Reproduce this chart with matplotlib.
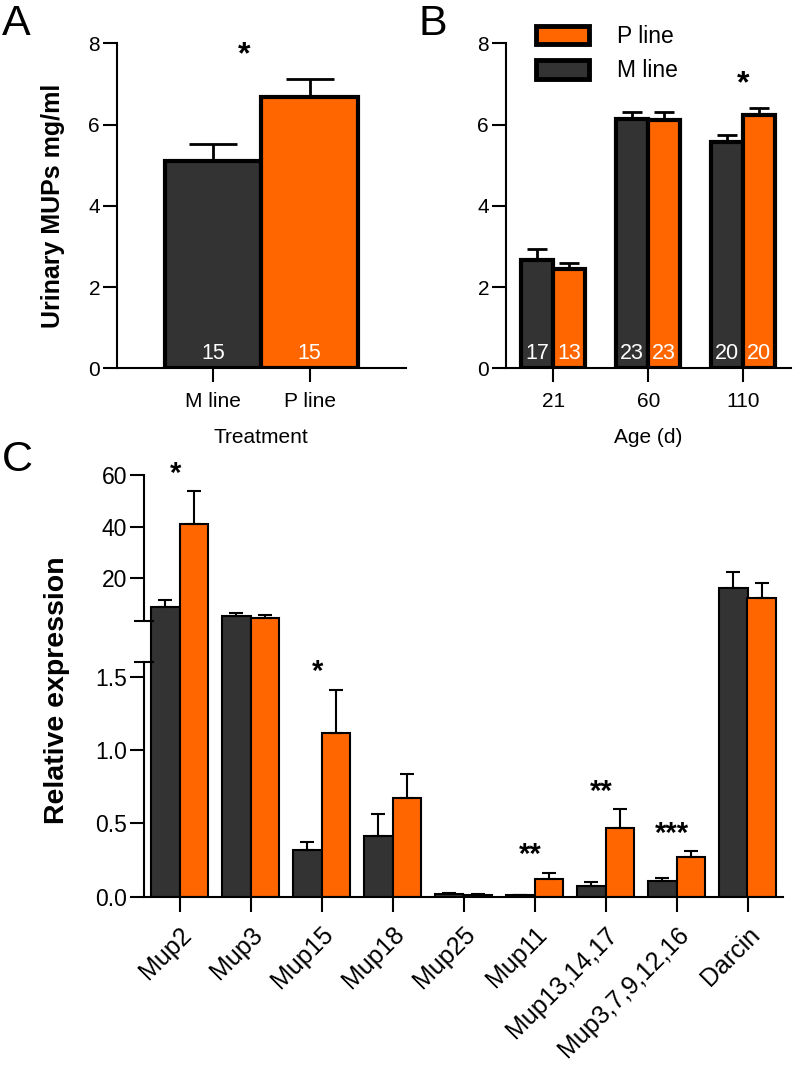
import numpy as np
import matplotlib
matplotlib.use('Agg')
import matplotlib.pyplot as plt
from matplotlib.patches import Patch
from matplotlib.spines import Spine

plt.rcParams['font.family'] = ['Liberation Sans', 'DejaVu Sans']

DARK = '#333333'
ORANGE = '#ff6600'

# ---- data ----
# panel A
a_groups = ['M line', 'P line']
a_means = [5.11, 6.67]
a_sem = [0.41, 0.45]
a_n = [15, 15]

# panel B
b_ages = ['21', '60', '110']
b_m_means = [2.67, 6.13, 5.58]
b_m_sem = [0.26, 0.19, 0.17]
b_p_means = [2.44, 6.10, 6.24]
b_p_sem = [0.15, 0.22, 0.17]
b_m_n = [17, 23, 20]
b_p_n = [13, 23, 20]

# panel C
c_genes = ['Mup2', 'Mup3', 'Mup15', 'Mup18', 'Mup25', 'Mup11',
           'Mup13,14,17', 'Mup3,7,9,12,16', 'Darcin']
c_m_means = [8.8, 5.3, 0.318, 0.414, 0.018, 0.009, 0.075, 0.107, 16.1]
c_m_sem = [2.7, 1.3, 0.055, 0.15, 0.004, 0.003, 0.023, 0.018, 6.5]
c_p_means = [40.9, 4.5, 1.114, 0.675, 0.015, 0.124, 0.47, 0.273, 12.3]
c_p_sem = [12.9, 1.3, 0.30, 0.16, 0.003, 0.040, 0.13, 0.036, 6.0]
c_stars = ['*', '', '*', '', '', '**', '**', '***', '']

W, H = 797, 1066
fig = plt.figure(figsize=(W / 100, H / 100), dpi=100)


def px_axes(left, top, right, bottom):
    return fig.add_axes([left / W, 1 - bottom / H, (right - left) / W, (bottom - top) / H])


def style(ax, fs=15):
    for s in ['top', 'right']:
        ax.spines[s].set_visible(False)
    for s in ['left', 'bottom']:
        ax.spines[s].set_linewidth(1.5)
    ax.tick_params(direction='out', length=10, width=1.5, labelsize=fs, pad=2)


# ---- A ----
axa = px_axes(116.7, 43.3, 406, 368.3)
xa = np.arange(len(a_groups))
axa.bar(xa, a_means, 1.0, color=[DARK, ORANGE], edgecolor='black', linewidth=3,
        yerr=[np.zeros(2), a_sem], capsize=17,
        error_kw=dict(elinewidth=2, capthick=2, ecolor='black'))
for x, n in zip(xa, a_n):
    axa.annotate(str(n), (x, 0), xytext=(0, 3), textcoords='offset points',
                 ha='center', va='bottom', color='white', fontsize=15.5)
axa.set_xlim(-1, 2)
axa.set_ylim(0, 8)
axa.set_yticks([0, 2, 4, 6, 8])
axa.set_xticks(xa)
axa.set_xticklabels(a_groups)
style(axa)
axa.tick_params(axis='x', pad=7)
axa.set_ylabel('Urinary MUPs mg/ml', fontsize=18, fontweight='bold')
axa.yaxis.set_label_coords(-0.179, 0.5)
axa.set_xlabel('Treatment', fontsize=15)
axa.xaxis.set_label_coords(0.5, -0.185)
axa.text(0.32, 7.7, '*', ha='center', va='center', fontsize=23, fontweight='bold')

# ---- B ----
axb = px_axes(505.7, 43.3, 790.7, 368.3)
xb = np.arange(len(b_ages))
bw = 0.335
axb.bar(xb - bw / 2, b_m_means, bw, color=DARK, edgecolor='black', linewidth=3,
        yerr=[np.zeros(3), b_m_sem], capsize=7,
        error_kw=dict(elinewidth=2, capthick=2, ecolor='black'), label='M line')
axb.bar(xb + bw / 2, b_p_means, bw, color=ORANGE, edgecolor='black', linewidth=3,
        yerr=[np.zeros(3), b_p_sem], capsize=7,
        error_kw=dict(elinewidth=2, capthick=2, ecolor='black'), label='P line')
for x, nm, npl in zip(xb, b_m_n, b_p_n):
    axb.annotate(str(nm), (x - bw / 2, 0), xytext=(0, 3), textcoords='offset points',
                 ha='center', va='bottom', color='white', fontsize=15.5)
    axb.annotate(str(npl), (x + bw / 2, 0), xytext=(0, 3), textcoords='offset points',
                 ha='center', va='bottom', color='white', fontsize=15.5)
axb.set_xlim(-0.5, 2.5)
axb.set_ylim(0, 8)
axb.set_yticks([0, 2, 4, 6, 8])
axb.set_xticks(xb)
axb.set_xticklabels(b_ages)
style(axb)
axb.tick_params(axis='x', pad=7)
axb.set_xlabel('Age (d)', fontsize=15)
axb.xaxis.set_label_coords(0.5, -0.185)
axb.text(2, 7.0, '*', ha='center', va='center', fontsize=23, fontweight='bold')
handles = [Patch(facecolor=ORANGE, edgecolor='black', linewidth=3.5, joinstyle='round'),
           Patch(facecolor=DARK, edgecolor='black', linewidth=3.5, joinstyle='round')]
axb.legend(handles, ['P line', 'M line'], loc='upper left',
           bbox_to_anchor=(536 / W, 1 - 25 / H), bbox_transform=fig.transFigure,
           frameon=False, fontsize=16.5, handlelength=2.3, handleheight=0.85,
           handletextpad=1.25, labelspacing=0.5, borderpad=0, borderaxespad=0)

# ---- C (broken y axis) ----
src = [0, 1.6, 3.5, 60]
dst = [0, 234.4, 275.7, 421.7]


def fwd(v):
    v = np.asarray(v, dtype=float)
    s0 = (dst[1] - dst[0]) / (src[1] - src[0])
    s1 = (dst[-1] - dst[-2]) / (src[-1] - src[-2])
    return np.where(v < src[0], dst[0] + (v - src[0]) * s0,
                    np.where(v > src[-1], dst[-1] + (v - src[-1]) * s1,
                             np.interp(v, src, dst)))


def inv(p):
    p = np.asarray(p, dtype=float)
    s0 = (src[1] - src[0]) / (dst[1] - dst[0])
    s1 = (src[-1] - src[-2]) / (dst[-1] - dst[-2])
    return np.where(p < dst[0], src[0] + (p - dst[0]) * s0,
                    np.where(p > dst[-1], src[-1] + (p - dst[-1]) * s1,
                             np.interp(p, dst, src)))


axc = px_axes(144, 475, 783, 896.7)
axc.set_yscale('function', functions=(fwd, inv))
xc = np.arange(len(c_genes))
cw = 0.4
n = len(c_genes)
axc.bar(xc - cw / 2, c_m_means, cw, color=DARK, edgecolor='black', linewidth=1.5,
        yerr=[np.zeros(n), c_m_sem], capsize=5,
        error_kw=dict(elinewidth=1.5, capthick=1.5, ecolor='black'))
axc.bar(xc + cw / 2, c_p_means, cw, color=ORANGE, edgecolor='black', linewidth=1.5,
        yerr=[np.zeros(n), c_p_sem], capsize=5,
        error_kw=dict(elinewidth=1.5, capthick=1.5, ecolor='black'))
for x, m, e, st in zip(xc, c_p_means, c_p_sem, c_stars):
    if st:
        axc.annotate(st, (x, m + e), xytext=(-3, 12.5), textcoords='offset points',
                     ha='center', va='center', fontsize=21, fontweight='bold')
axc.set_xlim(-0.5, 8.5)
axc.set_ylim(0, 60)
style(axc, fs=16.5)
axc.spines['left'].set_bounds(0, 1.6)
upper = Spine.linear_spine(axc, 'left')
upper.set_position(('outward', 0))
upper.set_bounds(3.5, 60)
upper.set_linewidth(1.5)
axc.spines['left_upper'] = upper
axc.set_yticks([0, 0.5, 1.0, 1.5, 20, 40, 60])
axc.set_yticklabels(['0.0', '0.5', '1.0', '1.5', '20', '40', '60'])
axc.set_yticks([1.6, 3.5], minor=True)
axc.tick_params(axis='y', which='minor', direction='inout', length=14, width=1.5)
axc.set_xticks(xc)
axc.set_xticklabels(c_genes, rotation=45, ha='right', va='top',
                    rotation_mode='anchor', fontsize=18)
axc.tick_params(axis='x', length=10.5, pad=8)
axc.set_ylabel('Relative expression', fontsize=20.5, fontweight='bold')
axc.yaxis.set_label_coords(-0.116, 0.49)

# panel letters
fig.text(2 / W, 1 - 4 / H, 'A', fontsize=31, va='top', ha='left')
fig.text(418 / W, 1 - 4 / H, 'B', fontsize=31, va='top', ha='left')
fig.text(2 / W, 1 - 440 / H, 'C', fontsize=31, va='top', ha='left')

fig.savefig('out.png', dpi=100)
